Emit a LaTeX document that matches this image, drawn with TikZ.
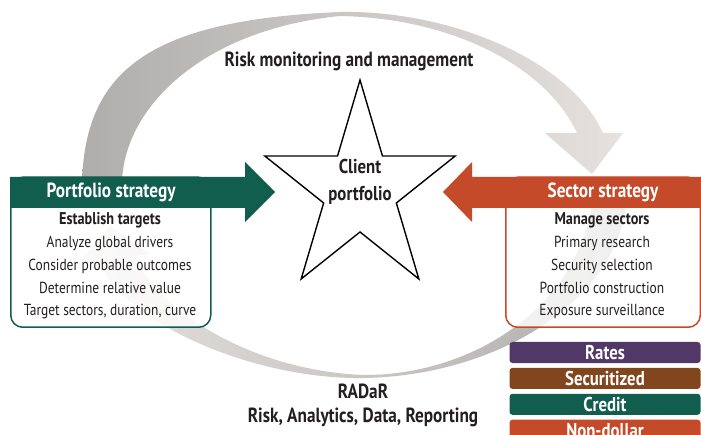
\documentclass[tikz,border=0pt]{standalone}
\usepackage{fontspec}
\setmainfont{PT Sans}[FakeStretch=0.84]
\usetikzlibrary{positioning}

\definecolor{pgreen}{RGB}{18,94,78}
\definecolor{sorange}{RGB}{196,74,42}
\definecolor{rpurple}{RGB}{82,56,102}
\definecolor{sbrown}{RGB}{130,70,30}
\definecolor{arcdark}{RGB}{176,174,172}
\definecolor{arclight}{RGB}{228,225,222}
\definecolor{ink}{RGB}{35,31,32}

\newcommand{\listhead}[1]{{\fontsize{17}{22.75}\selectfont\bfseries #1}}

\begin{document}
\begin{tikzpicture}[x=1pt,y=-1pt,
  font=\fontsize{16}{22.75}\selectfont,
  head/.style={font=\fontsize{20.5}{22}\selectfont\bfseries, text=white},
  title/.style={font=\fontsize{20.5}{24}\selectfont\bfseries, text=ink, align=center},
  list/.style={align=center, text=ink},
  box/.style={rounded corners=12pt, line width=1.5pt, fill=white, fill opacity=0.82, anchor=south west, minimum width=200, minimum height=150},
  tag/.style={rounded corners=3pt, minimum width=191, minimum height=21, inner sep=0pt, font=\fontsize{20}{20}\selectfont\bfseries, text=white},
  starline/.style={line width=1.4pt, fill=white, line join=miter}
]
\useasboundingbox (0,0) rectangle (701,435);

% gray loop arrows
\shade[left color=arcdark, right color=arclight] (82,185) .. controls (84,70) and (150,20) .. (340,12)
  .. controls (450,10) and (570,60) .. (603,133) -- (623,133) -- (592,174) -- (545,133) -- (577,133)
  .. controls (545,65) and (450,18) .. (340,16) .. controls (200,30) and (122,110) .. (122,185) -- cycle;
\shade[left color=arclight, right color=arcdark] (626,205) .. controls (615,300) and (500,375) .. (365,378)
  .. controls (250,380) and (120,320) .. (100,261) -- (78,264) -- (110,226) -- (150,254) -- (135,256)
  .. controls (160,315) and (260,372) .. (365,375) .. controls (470,375) and (575,310) .. (592,205) -- cycle;

% strategy boxes
\node[box, draw=pgreen] (portbox) at (10,328) {};
\node[box, draw=sorange, minimum width=194.5] (sectbox) at (505,328) {};
\fill[pgreen] (10,177) -- (245,177) -- (245,162) -- (275,192) -- (245,222) -- (245,208) -- (10,208) -- cycle;
\fill[sorange] (705,177) -- (472,177) -- (472,162) -- (443,192) -- (472,222) -- (472,208) -- (705,208) -- cycle;
\node[head] (porthead) at (111,192.5) {Portfolio strategy};
\node[head] (secthead) at (603,192.5) {Sector strategy};
\node[list] (portlist) at (110,266) {\listhead{Establish targets}\\Analyze global drivers\\Consider probable outcomes\\Determine relative value\\Target sectors, duration, curve};
\node[list] (sectlist) at (602,266) {\listhead{Manage sectors}\\Primary research\\Security selection\\Portfolio construction\\Exposure surveillance};

% client star
\begin{scope}[shift={(360,190)}, xscale=0.91]
  \draw[starline] (-90:110) \foreach \k in {1,...,9} { -- ({-90+36*\k}:{mod(\k,2)==0 ? 110 : 42}) } -- cycle;
\end{scope}
\node[title, font=\fontsize{20}{27}\selectfont\bfseries] (client) at (360,182) {Client\\portfolio};

\node[title] (riskmon) at (349,61) {Risk monitoring and management};
\node[title] (radar) at (363,405) {RADaR\\Risk, Analytics, Data, Reporting};

% sectors
\node[tag, fill=rpurple] (rates) at (605,352.5) {Rates};
\node[tag, fill=sbrown, below=4.5pt of rates] (secur) {Securitized};
\node[tag, fill=pgreen, below=4.5pt of secur] (credit) {Credit};
\node[tag, fill=sorange, below=4.5pt of credit] (nondollar) {Non-dollar};

\end{tikzpicture}
\end{document}
